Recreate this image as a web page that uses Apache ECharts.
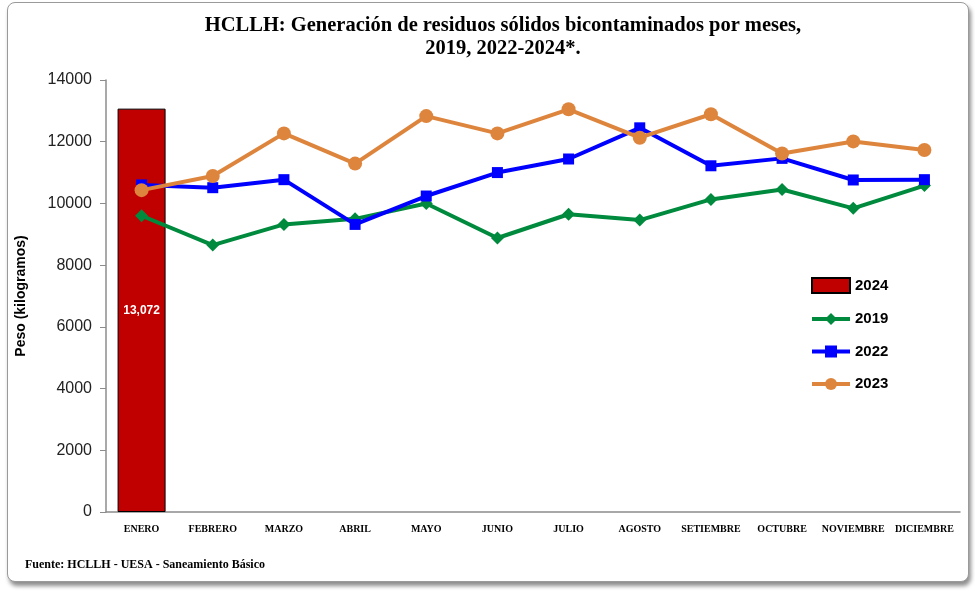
<!DOCTYPE html>
<html><head><meta charset="utf-8">
<script src="https://cdn.jsdelivr.net/npm/echarts@6/dist/echarts.min.js"></script>
<style>
html,body{margin:0;padding:0;background:#fff;width:975px;height:591px;overflow:hidden;}
#frame{position:absolute;left:7px;top:2px;width:960px;height:578px;border:1.5px solid #9a9a9a;border-radius:8px;box-shadow:2px 4px 4px rgba(0,0,0,0.45);background:#fff;}
#main{position:absolute;left:0;top:0;width:975px;height:591px;}
</style></head>
<body>
<div id="frame"></div>
<div id="main"></div>
<script>
const categories = ['ENERO','FEBRERO','MARZO','ABRIL','MAYO','JUNIO','JULIO','AGOSTO','SETIEMBRE','OCTUBRE','NOVIEMBRE','DICIEMBRE'];
const s2024 = [13072, null, null, null, null, null, null, null, null, null, null, null];
const s2019 = [9600, 8650, 9320, 9500, 10000, 8880, 9650, 9460, 10130, 10450, 9840, 10580];
const s2022 = [10600, 10510, 10770, 9320, 10240, 11000, 11440, 12450, 11220, 11460, 10760, 10770];
const s2023 = [10430, 10890, 12270, 11290, 12830, 12270, 13050, 12130, 12890, 11620, 12010, 11730];
const yTicks = [0, 2000, 4000, 6000, 8000, 10000, 12000, 14000];

const chart = echarts.init(document.getElementById('main'), null, {renderer:'canvas'});
chart.setOption({
  animation:false,
  backgroundColor:'transparent',
  title:{
    text:'HCLLH: Generación de residuos sólidos bicontaminados por meses,\n2019, 2022-2024*.',
    left:498, top:9, textAlign:'center',
    textStyle:{fontFamily:'Liberation Serif', fontWeight:'bold', fontSize:20.5, lineHeight:23, color:'#000'}
  },
  grid:{left:106, right:15, top:80, bottom:79},
  legend:{
    orient:'vertical', left:805, top:272, itemGap:17.5, itemWidth:38, itemHeight:15,
    data:[{name:'2024', icon:'rect'},{name:'2019'},{name:'2022'},{name:'2023'}],
    lineStyle:{width:4},
    textStyle:{fontFamily:'Liberation Sans', fontWeight:'bold', fontSize:15, color:'#000'}
  },
  xAxis:{
    type:'category', data:categories, boundaryGap:true,
    axisLine:{lineStyle:{color:'#8c8c8c', width:1.5}},
    axisTick:{show:false},
    axisLabel:{interval:0, margin:12, fontFamily:'Liberation Serif', fontWeight:'bold', fontSize:10, color:'#000'}
  },
  yAxis:{
    type:'value', min:yTicks[0], max:yTicks[yTicks.length-1], interval:2000,
    name:'Peso (kilogramos)', nameLocation:'middle', nameGap:78,
    nameTextStyle:{fontFamily:'Liberation Sans', fontWeight:'bold', fontSize:14, color:'#000'},
    axisLine:{show:true, lineStyle:{color:'#8c8c8c', width:1.5}},
    axisTick:{show:true, length:6, lineStyle:{color:'#8c8c8c'}},
    splitLine:{show:false},
    axisLabel:{margin:14, formatter:v=>String(v), fontFamily:'Liberation Sans', fontSize:16, color:'#222'}
  },
  series:[
    {name:'2024', type:'bar', data:s2024, barWidth:48, z:1,
     itemStyle:{color:'#C00000', borderColor:'#000', borderWidth:1},
     label:{show:true, position:'inside', formatter:p=>p.value.toLocaleString('en-US'), color:'#fff', fontFamily:'Liberation Sans', fontWeight:'bold', fontSize:12}},
    {name:'2019', type:'line', data:s2019, z:2, symbol:'diamond', symbolSize:13,
     lineStyle:{color:'#008A3E', width:4}, itemStyle:{color:'#008A3E'}},
    {name:'2022', type:'line', data:s2022, z:3, symbol:'rect', symbolSize:11,
     lineStyle:{color:'#0000FF', width:4}, itemStyle:{color:'#0000FF'}},
    {name:'2023', type:'line', data:s2023, z:4, symbol:'circle', symbolSize:14,
     lineStyle:{color:'#DE853D', width:4}, itemStyle:{color:'#DE853D'}}
  ],
  graphic:[
    {type:'text', left:25, top:559, style:{text:'Fuente: HCLLH - UESA - Saneamiento Básico', font:'bold 12px "Liberation Serif"', fill:'#000'}}
  ]
});
</script>
</body></html>
